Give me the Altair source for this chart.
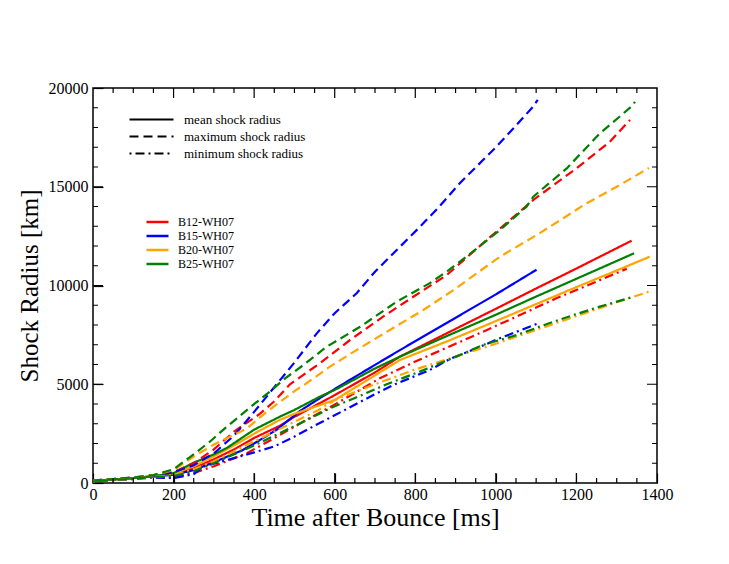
import altair as alt
import pandas as pd

FONT = "Liberation Serif"

# ---- data (time after bounce [ms], shock radius [km]) ----
t_b12_mean = [0, 50, 100, 150, 200, 250, 300, 350, 400, 464, 500, 600, 700, 762, 886, 1000, 1100, 1200, 1337]
r_b12_mean = [100, 180, 250, 340, 450, 750, 1200, 1700, 2280, 2900, 3350, 4450, 5600, 6400, 7660, 8820, 9850, 10860, 12270]

t_b15_mean = [0, 50, 100, 150, 200, 250, 300, 372, 400, 456, 514, 571, 640, 700, 762, 886, 1000, 1101]
r_b15_mean = [100, 180, 250, 330, 420, 650, 1050, 1670, 2000, 2700, 3650, 4400, 5250, 5980, 6730, 8200, 9550, 10800]

t_b20_mean = [0, 50, 100, 150, 200, 250, 300, 350, 400, 464, 500, 600, 700, 762, 886, 1000, 1100, 1200, 1300, 1382]
r_b20_mean = [100, 180, 250, 340, 480, 850, 1350, 1900, 2500, 3200, 3500, 4200, 5450, 6230, 7230, 8200, 9060, 9920, 10760, 11460]

t_b25_mean = [0, 50, 100, 150, 200, 248, 300, 332, 400, 464, 500, 563, 600, 700, 762, 886, 1000, 1100, 1200, 1343]
r_b25_mean = [100, 180, 250, 340, 500, 1010, 1450, 1770, 2700, 3360, 3700, 4370, 4710, 5800, 6400, 7510, 8520, 9440, 10340, 11630]

t_b12_max = [0, 50, 100, 150, 200, 250, 300, 350, 414, 448, 489, 563, 638, 720, 795, 878, 977, 1093, 1200, 1283, 1333]
r_b12_max = [120, 200, 270, 380, 550, 1000, 1700, 2600, 3500, 4100, 5000, 6060, 7240, 8420, 9430, 10530, 12300, 14330, 15930, 17280, 18380]

t_b15_max = [0, 50, 100, 150, 200, 250, 300, 350, 400, 450, 500, 556, 600, 655, 700, 754, 811, 860, 911, 1000, 1050, 1090, 1104]
r_b15_max = [120, 200, 280, 380, 550, 900, 1500, 2400, 3600, 4850, 6100, 7590, 8600, 9620, 10700, 11800, 12960, 14000, 15190, 17000, 18100, 19000, 19400]

t_b20_max = [0, 50, 100, 150, 200, 249, 300, 381, 431, 500, 530, 588, 654, 737, 820, 895, 1010, 1109, 1225, 1300, 1380]
r_b20_max = [120, 200, 280, 400, 650, 1330, 1950, 2750, 3600, 4650, 5050, 5890, 6730, 7750, 8760, 9770, 11460, 12650, 14160, 15000, 15950]

t_b25_max = [0, 50, 100, 150, 200, 240, 290, 328, 402, 435, 477, 522, 580, 663, 754, 836, 878, 927, 1010, 1076, 1093, 1176, 1258, 1341, 1345]
r_b25_max = [120, 200, 280, 400, 700, 1300, 2090, 2780, 4030, 4560, 5300, 5970, 6900, 7910, 9180, 10120, 10700, 11460, 12810, 13990, 14500, 15930, 17700, 19140, 19300]

t_b12_min = [0, 50, 100, 150, 200, 250, 300, 381, 456, 530, 605, 712, 800, 900, 968, 1051, 1150, 1250, 1325]
r_b12_min = [80, 150, 220, 300, 300, 500, 850, 1500, 2340, 3200, 4030, 5300, 6150, 7050, 7660, 8420, 9350, 10200, 10850]

t_b15_min = [0, 50, 100, 150, 200, 250, 273, 332, 400, 450, 500, 550, 630, 700, 750, 836, 886, 950, 1010, 1101]
r_b15_min = [80, 150, 200, 280, 250, 450, 830, 1160, 1550, 1850, 2350, 2900, 3750, 4500, 5000, 5720, 6280, 6800, 7330, 8050]

t_b20_min = [0, 50, 100, 150, 200, 250, 300, 400, 500, 560, 600, 700, 800, 900, 1000, 1100, 1200, 1300, 1382]
r_b20_min = [80, 150, 220, 300, 400, 700, 1100, 2100, 3100, 3700, 4200, 5000, 5750, 6400, 7050, 7750, 8450, 9150, 9700]

t_b25_min = [0, 50, 100, 150, 200, 250, 300, 400, 464, 522, 588, 650, 729, 811, 911, 968, 1051, 1134, 1192, 1258, 1341]
r_b25_min = [80, 150, 220, 300, 350, 600, 1000, 1900, 2530, 3100, 3780, 4300, 5000, 5640, 6480, 6990, 7490, 8100, 8500, 8930, 9430]

models = ["B12-WH07", "B15-WH07", "B20-WH07", "B25-WH07"]
model_colors = ["#ff0000", "#0000ff", "#ffa500", "#008000"]
kinds = ["mean shock radius", "maximum shock radius", "minimum shock radius"]
kind_dashes = [[1, 0], [9, 5], [2, 4, 9, 4]]

x_major = [0, 200, 400, 600, 800, 1000, 1200, 1400]
y_major = [0, 5000, 10000, 15000, 20000]
x_tick_step, y_tick_step = 50, 1000

series = [
    ("B12-WH07", "mean shock radius", t_b12_mean, r_b12_mean),
    ("B15-WH07", "mean shock radius", t_b15_mean, r_b15_mean),
    ("B20-WH07", "mean shock radius", t_b20_mean, r_b20_mean),
    ("B25-WH07", "mean shock radius", t_b25_mean, r_b25_mean),
    ("B12-WH07", "maximum shock radius", t_b12_max, r_b12_max),
    ("B15-WH07", "maximum shock radius", t_b15_max, r_b15_max),
    ("B20-WH07", "maximum shock radius", t_b20_max, r_b20_max),
    ("B25-WH07", "maximum shock radius", t_b25_max, r_b25_max),
    ("B12-WH07", "minimum shock radius", t_b12_min, r_b12_min),
    ("B15-WH07", "minimum shock radius", t_b15_min, r_b15_min),
    ("B20-WH07", "minimum shock radius", t_b20_min, r_b20_min),
    ("B25-WH07", "minimum shock radius", t_b25_min, r_b25_min),
]

rows = []
for sid, (m, k, ts, rs) in enumerate(series):
    for i, (t, r) in enumerate(zip(ts, rs)):
        rows.append({"model": m, "kind": k, "sid": f"s{sid}", "t": t, "r": r,
                     "order": i, "sw": 2.2})

W, H = 564, 395
XMAX, YMAX = 1400, 20000

# inward-pointing axis ticks (major 10 px, minor 5 px) on all four sides,
# drawn as short two-point segments through the same scales
segs = []
for v in range(x_tick_step, XMAX, x_tick_step):
    d = (10 if v % 200 == 0 else 5) / H * YMAX
    segs.append((v, 0, v, d))
    segs.append((v, YMAX, v, YMAX - d))
for v in range(y_tick_step, YMAX, y_tick_step):
    d = (10 if v % 5000 == 0 else 5) / W * XMAX
    segs.append((0, v, d, v))
    segs.append((XMAX, v, XMAX - d, v))
for j, (t1, r1, t2, r2) in enumerate(segs):
    rows.append({"model": "tick", "kind": "tick", "sid": f"k{j}", "t": t1, "r": r1, "order": 0, "sw": 1.2})
    rows.append({"model": "tick", "kind": "tick", "sid": f"k{j}", "t": t2, "r": r2, "order": 1, "sw": 1.2})

df = pd.DataFrame(rows)

xscale = alt.Scale(domain=[0, XMAX], nice=False, zero=False)
yscale = alt.Scale(domain=[0, YMAX], nice=False, zero=False)

# major ticks of the labelled axes point inward (negative size via an expression)
x_axis = alt.Axis(values=x_major, format="d", ticks=True, tickSize={"expr": "-10"},
                  tickColor="black", tickWidth=1.2, domain=False, grid=False,
                  labelFlush=False, title="Time after Bounce [ms]", labelFont=FONT,
                  labelFontSize=16, labelColor="black", titleFont=FONT, titleFontSize=26,
                  titleFontWeight="normal", titleColor="black",
                  labelPadding=13, titlePadding=2)
y_axis = alt.Axis(values=y_major, format="d", ticks=True, tickSize={"expr": "-10"},
                  tickColor="black", tickWidth=1.2, domain=False, grid=False,
                  labelFlush=False, title="Shock Radius [km]", labelFont=FONT,
                  labelFontSize=16, labelColor="black", titleFont=FONT, titleFontSize=25,
                  titleFontWeight="normal", titleColor="black",
                  labelPadding=15, titlePadding=6)

chart = alt.Chart(df).mark_line(clip=True).encode(
    x=alt.X("t:Q", scale=xscale, axis=x_axis),
    y=alt.Y("r:Q", scale=yscale, axis=y_axis),
    color=alt.Color("model:N",
                    scale=alt.Scale(domain=models + ["tick"], range=model_colors + ["black"]),
                    legend=alt.Legend(values=models, orient="none", legendX=52, legendY=127,
                                      title=None, symbolType="stroke", symbolSize=22 * 22,
                                      symbolStrokeWidth=2.5, labelFont=FONT, labelFontSize=12,
                                      labelColor="black", labelOffset=8, rowPadding=0,
                                      clipHeight=14, padding=0)),
    strokeDash=alt.StrokeDash("kind:N",
                              scale=alt.Scale(domain=kinds + ["tick"], range=kind_dashes + [[1, 0]]),
                              legend=alt.Legend(values=kinds, orient="none", legendX=35, legendY=23,
                                                title=None, symbolType="stroke", symbolSize=44 * 44,
                                                symbolStrokeColor="black", symbolStrokeWidth=2.2,
                                                labelFont=FONT, labelFontSize=13, labelColor="black",
                                                labelOffset=9, rowPadding=0, clipHeight=17,
                                                padding=0)),
    strokeWidth=alt.StrokeWidth("sw:Q", scale=None),
    detail="sid:N",
    order="order:Q",
).properties(
    width=W, height=H,
    autosize=alt.AutoSizeParams(type="none"),
    padding={"left": 85, "top": 80, "right": 60, "bottom": 70},
    background="white",
).configure_view(stroke="black", strokeWidth=1.5)

chart.save("out.html", embed_options={"renderer": "svg", "actions": False})
